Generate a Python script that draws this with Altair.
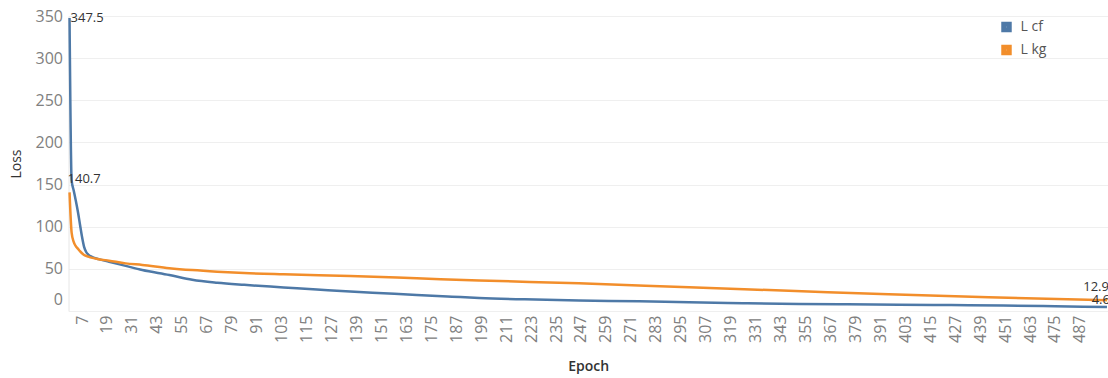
import altair as alt
import pandas as pd

# Training loss per epoch for the two loss terms
epochs_cf = [1, 2, 3, 4, 5, 6, 7, 8, 9, 10, 12, 15, 20, 28, 36, 49, 60, 72, 85,
             104, 120, 136, 152, 168, 185, 198, 220, 246, 275, 299, 325, 352,
             375, 400, 425, 450, 475, 500]
loss_cf = [347.5, 155, 143, 131, 118, 103, 88, 76, 70, 67, 64, 61.5, 58.5, 53.5,
           48.6, 42.7, 37, 33.5, 31, 28, 25.5, 23, 21, 19, 17, 15.5, 13.8, 12.5,
           11.5, 10.3, 9.3, 8.3, 7.9, 7.5, 7.0, 6.5, 5.6, 4.6]

epochs_kg = [1, 2, 3, 4, 5, 6, 7, 8, 10, 12, 15, 20, 28, 36, 49, 60, 72, 85, 104,
             136, 168, 198, 246, 299, 347, 395, 443, 500]
loss_kg = [140.7, 93, 82, 77, 74, 71, 68.5, 66.5, 64.5, 63, 61.5, 59.7, 56.5,
           54.6, 50.8, 48.5, 46.6, 45, 43.5, 41.5, 38.8, 36.2, 32.9, 28.1, 24,
           19.8, 16.3, 12.9]

series_names = ["L cf", "L kg"]
series_colors = ["#4e79a7", "#f28e2b"]
epoch_ticks = list(range(7, 488, 12))
loss_ticks = [0, 50, 100, 150, 200, 250, 300, 350]

df = pd.concat([
    pd.DataFrame({"Epoch": epochs_cf, "Loss": loss_cf, "Series": series_names[0]}),
    pd.DataFrame({"Epoch": epochs_kg, "Loss": loss_kg, "Series": series_names[1]}),
], ignore_index=True)

FONT = "Open Sans"

x_enc = alt.X(
    "Epoch:Q",
    scale=alt.Scale(domain=[0.5, 500.5], nice=False, zero=False),
    axis=alt.Axis(
        values=epoch_ticks, labelAngle=270, ticks=False, domain=False,
        grid=False, labelFontSize=16, labelColor="#808080", labelFont=FONT,
        labelPadding=4, labelOverlap=False, labelBound=False, labelFlush=False,
        title="Epoch", titleFont=FONT, titleFontSize=14, titleFontWeight=600,
        titleColor="#333333", titlePadding=17,
    ),
)
y_enc = alt.Y(
    "Loss:Q",
    scale=alt.Scale(domain=[0, 350], nice=False),
    axis=alt.Axis(
        values=loss_ticks, ticks=False,
        domain=True, domainColor="#e6e6e6", grid=True, gridColor="#efefef",
        labelFontSize=16, labelColor="#808080", labelFont=FONT, labelPadding=6,
        labelOverlap=False,
        labelOffset=alt.expr("datum.value == 0 ? -12 : 0"),
        title="Loss", titleFont=FONT, titleFontSize=14, titleFontWeight=500,
        titleColor="#333333", titlePadding=12,
    ),
)
color_enc = alt.Color(
    "Series:N",
    scale=alt.Scale(domain=series_names, range=series_colors),
    legend=alt.Legend(
        title=None, orient="none", legendX=931, legendY=4, symbolType="square",
        symbolSize=30, symbolStrokeWidth=5, labelFont=FONT, labelFontSize=14,
        labelColor="#555555", clipHeight=14, rowPadding=9, labelOffset=7,
    ),
)

base = alt.Chart(df)

lines = base.mark_line(strokeWidth=2.5, interpolate="monotone").encode(
    x=x_enc, y=y_enc, color=color_enc
)

label_style = dict(font=FONT, fontSize=13, color="#333333")


def value_label(series, epoch, **kw):
    return base.transform_filter(
        (alt.datum.Series == series) & (alt.datum.Epoch == epoch)
    ).mark_text(**label_style, **kw).encode(
        x=x_enc, y=y_enc, text=alt.Text("Loss:Q", format=".1f")
    )


start_cf = value_label(series_names[0], 1, align="left", baseline="middle", dx=1)
start_kg = value_label(series_names[1], 1, align="left", baseline="middle", dx=-2, dy=-13)
end_kg = value_label(series_names[1], 500, align="right", baseline="middle", dx=2, dy=-13)
end_cf = value_label(series_names[0], 500, align="right", baseline="middle", dx=3, dy=-7)

chart = (
    alt.layer(lines, start_cf, start_kg, end_kg, end_cf)
    .properties(
        width=1039.5,
        height=295,
        autosize=alt.AutoSizeParams(type="none"),
        padding={"left": 68.5, "top": 16, "right": 0, "bottom": 67},
        background="white",
    )
    .configure_view(stroke=None)
)

chart.save("out.html", embed_options={"renderer": "svg", "actions": False})
